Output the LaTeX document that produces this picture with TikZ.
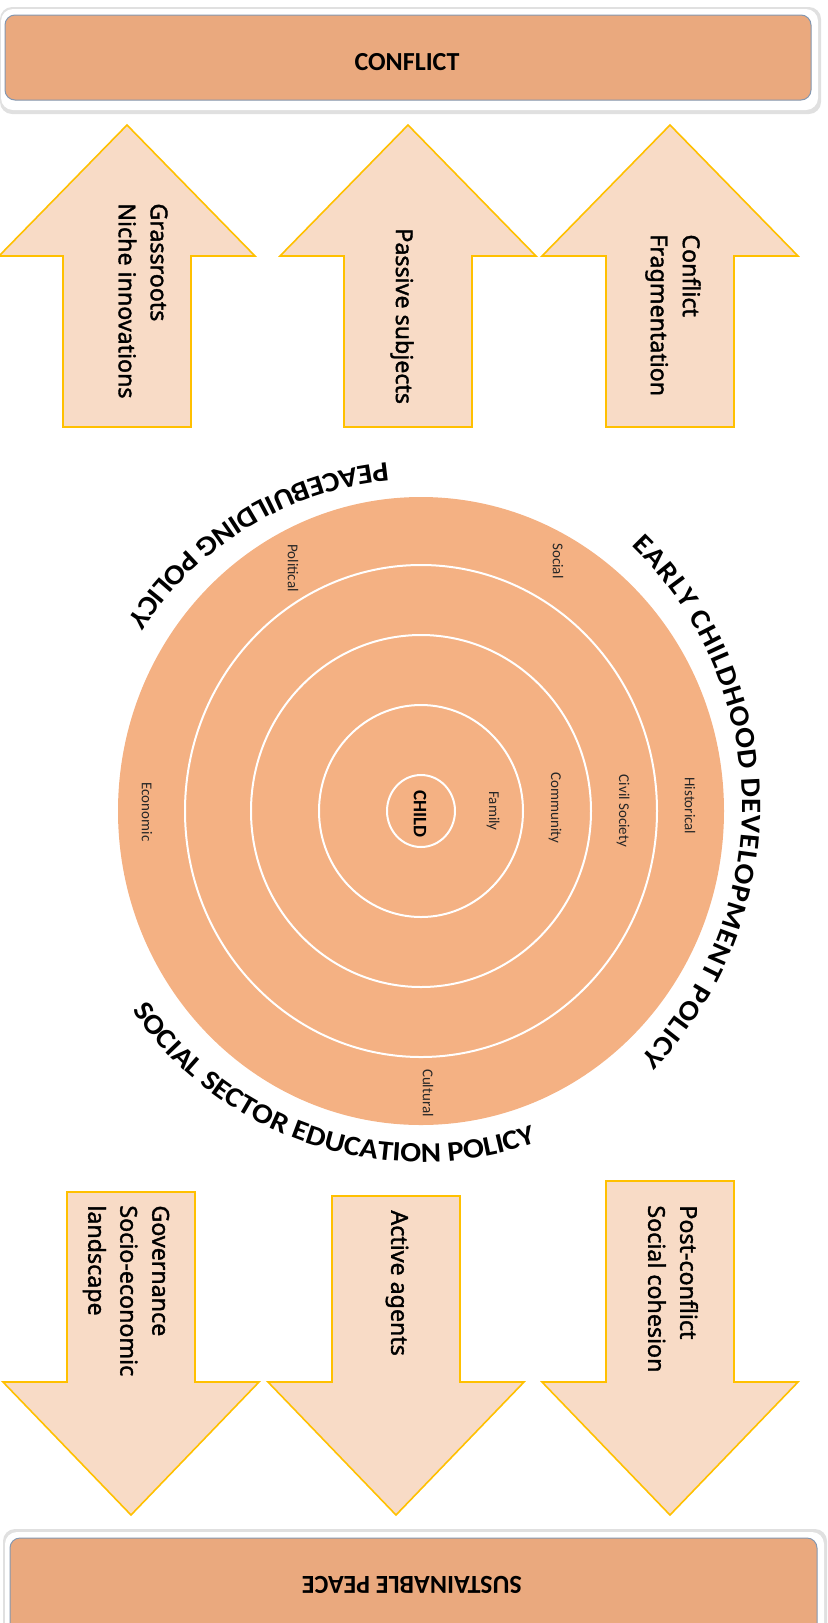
\documentclass[tikz,border=0pt]{standalone}
\usepackage{fontspec}
\setmainfont{Carlito}
\newfontfamily\arrowfont[FakeBold=1.6]{Noto Sans}
\newfontfamily\arcfont[FakeStretch=1.1]{Carlito}
\usetikzlibrary{decorations.text}
\definecolor{ringfill}{HTML}{F4B183}
\definecolor{boxfill}{HTML}{EAA97E}
\definecolor{boxline}{HTML}{8497B0}
\definecolor{arrowfill}{HTML}{F8DBC6}
\definecolor{arrowline}{HTML}{FFC000}
\newcommand{\arcstyle}{\arcfont\bfseries\fontsize{14}{14}\selectfont}
\tikzset{
  arctext/.style={decorate, decoration={text along path, text align={fit to path}, text={|\arcstyle|#1}}},
  blockarrow/.style={draw=arrowline, fill=arrowfill, line width=0.8pt, line join=miter},
  arrowtext/.style={rotate=-90, anchor=west, inner sep=0pt, align=left, font=\arrowfont\fontsize{11.6}{16}\selectfont},
  ringlabel/.style={rotate=-90, inner sep=0pt, text=black!85, font=\fontsize{7.5}{9}\selectfont},
  ring/.style={draw=white, line width=1pt},
  boxtext/.style={font=\bfseries\fontsize{13}{15}\selectfont}
}
\begin{document}
\begin{tikzpicture}[x=0.5pt,y=0.5pt]
    \useasboundingbox (0,0) rectangle (828,-1623);
    \fill [black!12, rounded corners=6pt] (0,-7) rectangle (821,-114);
    \fill [white, rounded corners=6pt] (1,-9) rectangle (818,-110);
    \draw [boxline, fill=boxfill, line width=0.5pt, rounded corners=5pt] (5,-15) rectangle (811,-100);
    \node [boxtext] (conflict) at (407,-62) {CONFLICT};
    \fill [black!12, rounded corners=6pt] (3,-1529) rectangle (827,-1640);
    \fill [white, rounded corners=6pt] (5,-1532) rectangle (824,-1640);
    \draw [boxline, fill=boxfill, line width=0.5pt, rounded corners=5pt] (10,-1538) rectangle (817,-1640);
    \node [boxtext, rotate=180] (peace) at (412,-1585) {SUSTAINABLE PEACE};
    \foreach \cx in {127,408,670}
        \draw [blockarrow] ({\cx-64},-427) -- ({\cx-64},-256) -- ({\cx-128},-256) -- (\cx,-125) -- ({\cx+128},-256) -- ({\cx+64},-256) -- ({\cx+64},-427) -- cycle;
    \foreach \cx/\top in {131/1192,396/1196,670/1181}
        \draw [blockarrow] ({\cx-64},-\top) -- ({\cx+64},-\top) -- ({\cx+64},-1382) -- ({\cx+128},-1382) -- (\cx,-1515) -- ({\cx-128},-1382) -- ({\cx-64},-1382) -- cycle;
    \node [arrowtext] (grassroots) at (143,-203) {Grassroots\\Niche innovations};
    \node [arrowtext] (passive) at (402,-228) {Passive subjects};
    \node [arrowtext] (fragment) at (673,-234) {Conflict\\Fragmentation};
    \node [arrowtext] (governance) at (126,-1205) {Governance\\Socio-economic\\landscape};
    \node [arrowtext] (active) at (397,-1210) {Active agents};
    \node [arrowtext] (cohesion) at (673,-1205) {Post-conflict\\Social cohesion};
    \fill [ringfill] (421,-811) ellipse [x radius=303, y radius=314];
    \draw [ring] (421,-811) ellipse [x radius=236, y radius=246];
    \draw [ring] (421,-811) ellipse [x radius=170, y radius=176];
    \draw [ring] (421,-811) ellipse [x radius=102, y radius=106];
    \draw [ring] (421,-811) ellipse [x radius=34, y radius=36];
    \node [ringlabel] (social) at (558,-561) {Social};
    \node [ringlabel] (political) at (293,-568) {Political};
    \node [ringlabel] (historical) at (690,-806) {Historical};
    \node [ringlabel] (civil) at (623,-811) {Civil Society};
    \node [ringlabel] (community) at (555,-808) {Community};
    \node [ringlabel] (family) at (493,-811) {Family};
    \node [ringlabel] (economic) at (147,-812) {Economic};
    \node [ringlabel] (cultural) at (428,-1093) {Cultural};
    \node [rotate=-90, inner sep=0pt, font=\bfseries\fontsize{9.5}{11}\selectfont] (child) at (420,-814) {CHILD};
    \path [shift={(421,-811)}, arctext={PEACEBUILDING POLICY}] (95.5:350) arc [start angle=95.5, end angle=147, radius=350];
    \path [shift={(421,-811)}, arctext={SOCIAL SECTOR EDUCATION POLICY}] (214.7:351) arc [start angle=214.7, end angle=288, radius=351];
    \path [shift={(380,-806)}, arctext={EARLY CHILDHOOD DEVELOPMENT POLICY}] (46:362) arc [start angle=46, end angle=-44, radius=362];
\end{tikzpicture}
\end{document}
